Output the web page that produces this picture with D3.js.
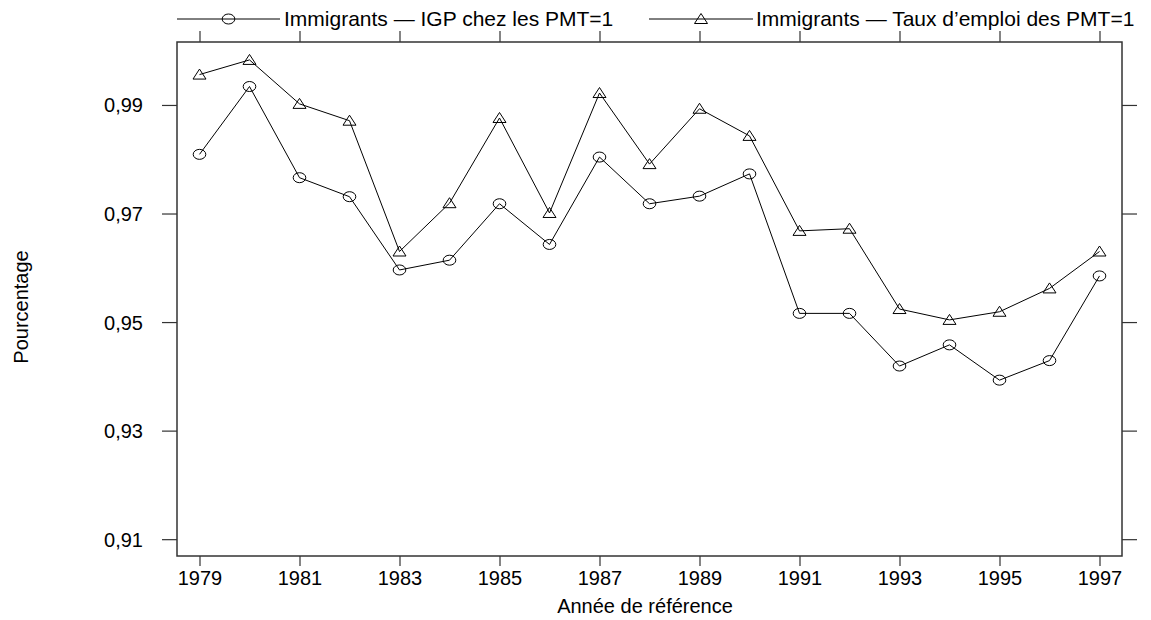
<!DOCTYPE html>
<html>
<head>
<meta charset="utf-8">
<script src="https://cdn.jsdelivr.net/npm/d3@7"></script>
<style>
  body { margin: 0; background: #fff; }
  text { font-family: "Liberation Sans", Arial, sans-serif; fill: #000; }
</style>
</head>
<body>
<div id="chart"></div>
<script>
// data
var years = [1979, 1980, 1981, 1982, 1983, 1984, 1985, 1986, 1987, 1988,
             1989, 1990, 1991, 1992, 1993, 1994, 1995, 1996, 1997];
var igp = [0.9809, 0.9934, 0.9766, 0.9731, 0.9596, 0.9614, 0.9718, 0.9643, 0.9804, 0.9718,
           0.9732, 0.9773, 0.9516, 0.9516, 0.9419, 0.9458, 0.9393, 0.9429, 0.9585];
var emploi = [0.9956, 0.9983, 0.9902, 0.9871, 0.9630, 0.9719, 0.9876, 0.9701, 0.9922, 0.9791,
              0.9893, 0.9843, 0.9668, 0.9672, 0.9524, 0.9504, 0.9519, 0.9562, 0.9630];
var yTicks = [0.91, 0.93, 0.95, 0.97, 0.99];
var xTicks = [1979, 1981, 1983, 1985, 1987, 1989, 1991, 1993, 1995, 1997];
var legendLabels = ["Immigrants \u2014 IGP chez les PMT=1", "Immigrants \u2014 Taux d\u2019emploi des PMT=1"];

var width = 1151;
var height = 620;
// plot frame
var frame = { left: 177, right: 1122, top: 42, bottom: 556 };

var svg = d3.select("#chart")
  .append("svg")
  .attr("width", width)
  .attr("height", height);

var x = d3.scaleLinear()
  .domain([1978.55, 1997.45])
  .range([frame.left, frame.right]);
var y = d3.scaleLinear()
  .domain([0.9069, 1.0016])
  .range([frame.bottom, frame.top]);

var fr = d3.formatLocale({ decimal: ",", thousands: " ", grouping: [3], currency: ["", ""] });
var fmt = fr.format(".2f");

// axes (domain lines removed, frame drawn separately)
var gLeft = svg.append("g")
  .attr("transform", `translate(${frame.left},0)`)
  .call(d3.axisLeft(y).tickValues(yTicks).tickSize(15).tickPadding(19).tickFormat(fmt));
gLeft.selectAll("text").attr("font-size", 20).attr("dy", "0.35em");

var gRight = svg.append("g")
  .attr("transform", `translate(${frame.right},0)`)
  .call(d3.axisRight(y).tickValues(yTicks).tickSize(15).tickFormat(""));

var gBottom = svg.append("g")
  .attr("transform", `translate(0,${frame.bottom})`)
  .call(d3.axisBottom(x).tickValues(xTicks).tickSize(10).tickFormat(d3.format("d")));
gBottom.selectAll("text").attr("font-size", 20).attr("y", 29).attr("dy", null);

var gTop = svg.append("g")
  .attr("transform", `translate(0,${frame.top})`)
  .call(d3.axisTop(x).tickValues(xTicks).tickSize(11).tickFormat(""));

svg.selectAll(".domain").remove();
svg.selectAll(".tick line").attr("stroke", "#333").attr("stroke-width", 1.2);

svg.append("rect")
  .attr("x", frame.left)
  .attr("y", frame.top)
  .attr("width", frame.right - frame.left)
  .attr("height", frame.bottom - frame.top)
  .attr("fill", "none")
  .attr("stroke", "#333")
  .attr("stroke-width", 1.5);

// lines
var line = d3.line()
  .x(d => x(d[0]))
  .y(d => y(d[1]));

var series = [
  { values: d3.zip(years, igp), marker: "circle" },
  { values: d3.zip(years, emploi), marker: "triangle" }
];

function drawMarker(g, type, cx, cy) {
  if (type === "circle") {
    g.append("ellipse")
      .attr("cx", cx).attr("cy", cy)
      .attr("rx", 6.3).attr("ry", 5)
      .attr("fill", "none").attr("stroke", "#000").attr("stroke-width", 1);
  } else {
    g.append("path")
      .attr("d", `M${cx},${cy - 5.5}L${cx + 6.5},${cy + 4.5}L${cx - 6.5},${cy + 4.5}Z`)
      .attr("fill", "none").attr("stroke", "#000").attr("stroke-width", 1);
  }
}

series.forEach(function(s) {
  svg.append("path")
    .datum(s.values)
    .attr("d", line)
    .attr("fill", "none")
    .attr("stroke", "#000")
    .attr("stroke-width", 1);
  var gm = svg.append("g");
  s.values.forEach(function(d) {
    drawMarker(gm, s.marker, x(d[0]), y(d[1]));
  });
});

// legend
var legendPos = [
  { x1: 177, x2: 280, tx: 284 },
  { x1: 649, x2: 753, tx: 756 }
];
var legendY = 19;
legendLabels.forEach(function(label, i) {
  var p = legendPos[i];
  var g = svg.append("g");
  g.append("line")
    .attr("x1", p.x1).attr("x2", p.x2)
    .attr("y1", legendY).attr("y2", legendY)
    .attr("stroke", "#000").attr("stroke-width", 1);
  drawMarker(g, series[i].marker, (p.x1 + p.x2) / 2, legendY);
  g.append("text")
    .attr("x", p.tx)
    .attr("y", legendY)
    .attr("dy", "0.35em")
    .attr("font-size", 21)
    .text(label);
});

// axis titles
svg.append("text")
  .attr("x", 645)
  .attr("y", 613)
  .attr("text-anchor", "middle")
  .attr("font-size", 20)
  .text("Année de référence");

svg.append("text")
  .attr("transform", "translate(28,307) rotate(-90)")
  .attr("text-anchor", "middle")
  .attr("font-size", 20)
  .text("Pourcentage");
</script>
</body>
</html>
